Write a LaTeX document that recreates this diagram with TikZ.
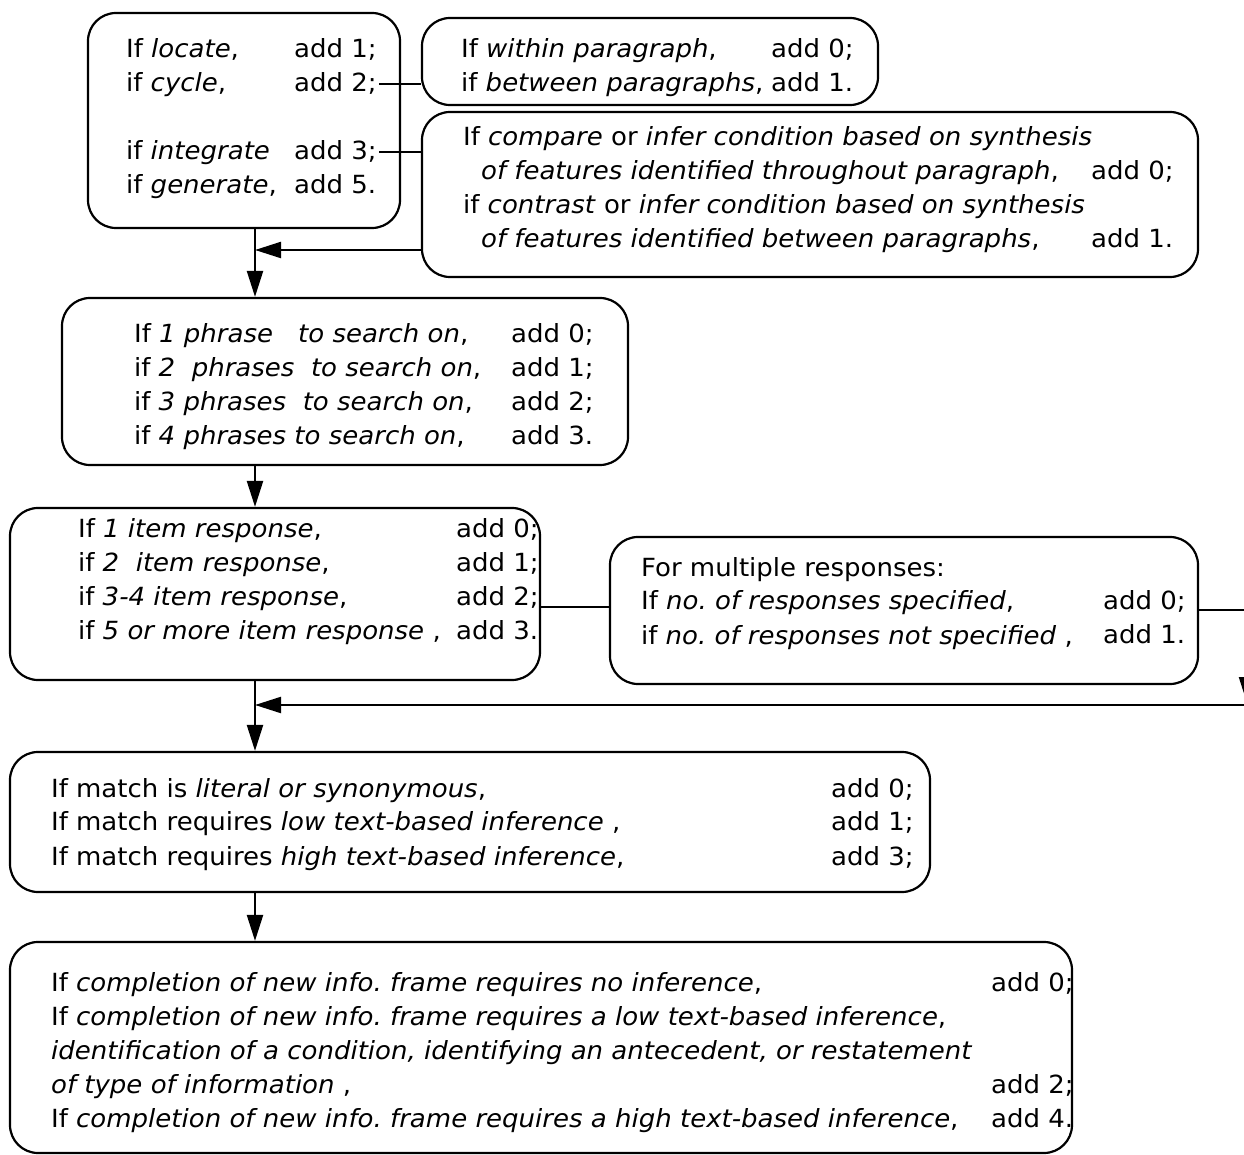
\documentclass[tikz,border=0pt]{standalone}
\usepackage{fontspec}
\setmainfont{DejaVu Sans}[FakeStretch=1.04]
\frenchspacing
\usetikzlibrary{arrows.meta}
\usetikzlibrary{fit}

\tikzset{
  box/.style={draw, rounded corners=14pt, inner sep=0pt},
  txt/.style={anchor=base west, inner sep=0pt, font=\fontsize{12.5}{17}\selectfont},
  arr/.style={-{Triangle[length=13pt, width=8pt]}},
}

\begin{document}
\begin{tikzpicture}[x=0.5pt, y=-0.5pt, line width=1.1pt]
    \path[use as bounding box, clip] (0,0) rectangle (1244,1155);

    % boxes
    \node[box, fit={(88,13) (400,228)}] (locbox) {};
    \node[box, fit={(422,18) (878,105)}] (parbox) {};
    \node[box, fit={(422,112) (1198,277)}] (synbox) {};
    \node[box, fit={(62,298) (628,465)}] (phrbox) {};
    \node[box, fit={(10,508) (540,680)}] (itembox) {};
    \node[box, fit={(610,537) (1198,684)}] (multbox) {};
    \node[box, fit={(10,752) (930,892)}] (matchbox) {};
    \node[box, fit={(10,942) (1072,1153)}] (framebox) {};

    % texts
    \node[txt] (loctxt) at (125,58) {\begin{tabular}[t]{@{}l@{}}
      If \emph{locate},\\ if \emph{cycle},\\ \\ if \emph{integrate}\\ if \emph{generate},\end{tabular}};
    \node[txt] (locadd) at (293,58) {\begin{tabular}[t]{@{}l@{}}
      add 1;\\ add 2;\\ \\ add 3;\\ add 5.\end{tabular}};

    \node[txt] (partxt) at (460,58) {\begin{tabular}[t]{@{}l@{}}
      If \emph{within paragraph},\\ if \emph{between paragraphs},\end{tabular}};
    \node[txt] (paradd) at (770,58) {\begin{tabular}[t]{@{}l@{}}
      add 0;\\ add 1.\end{tabular}};

    \node[txt] (syntxt) at (462,146) {\begin{tabular}[t]{@{}l@{}}
      If \emph{compare} or \emph{infer condition based on synthesis}\\
      \hspace{9pt}\emph{of features identified throughout paragraph},\\
      if \emph{contrast} or \emph{infer condition based on synthesis}\\
      \hspace{9pt}\emph{of features identified between paragraphs},\end{tabular}};
    \node[txt] (synadd) at (1090,146) {\begin{tabular}[t]{@{}l@{}}
      \\ add 0;\\ \\ add 1.\end{tabular}};

    \node[txt] (phrtxt) at (133,343) {\begin{tabular}[t]{@{}l@{}}
      If \emph{1 phrase\quad to search on},\\ if \emph{2 \ phrases \ to search on},\\
      if \emph{3 phrases \ to search on},\\ if \emph{4 phrases to search on},\end{tabular}};
    \node[txt] (phradd) at (510,343) {\begin{tabular}[t]{@{}l@{}}
      add 0;\\ add 1;\\ add 2;\\ add 3.\end{tabular}};

    \node[txt] (itemtxt) at (77,538) {\begin{tabular}[t]{@{}l@{}}
      If \emph{1 item response},\\ if \emph{2 \ item response},\\
      if \emph{3-4 item response},\\ if \emph{5 or more item response} ,\end{tabular}};
    \node[txt] (itemadd) at (455,538) {\begin{tabular}[t]{@{}l@{}}
      add 0;\\ add 1;\\ add 2;\\ add 3.\end{tabular}};

    \node[txt] (multtxt) at (640,576) {\begin{tabular}[t]{@{}l@{}}
      For multiple responses:\\ If \emph{no. of responses specified},\\
      if \emph{no. of responses not specified} ,\end{tabular}};
    \node[txt] (multadd) at (1102,576) {\begin{tabular}[t]{@{}l@{}}
      \\ add 0;\\ add 1.\end{tabular}};

    \node[txt] (matchtxt) at (50,797) {\begin{tabular}[t]{@{}l@{}}
      If match is \emph{literal or synonymous},\\
      If match requires \emph{low text-based inference} ,\\
      If match requires \emph{high text-based inference},\end{tabular}};
    \node[txt] (matchadd) at (830,797) {\begin{tabular}[t]{@{}l@{}}
      add 0;\\ add 1;\\ add 3;\end{tabular}};

    \node[txt] (frametxt) at (50,991) {\begin{tabular}[t]{@{}l@{}}
      If \emph{completion of new info. frame requires no inference},\\
      If \emph{completion of new info. frame requires a low text-based inference},\\
      \emph{identification of a condition, identifying an antecedent, or restatement}\\
      \emph{of type of information} ,\\
      If \emph{completion of new info. frame requires a high text-based inference},\end{tabular}};
    \node[txt] (frameadd) at (990,991) {\begin{tabular}[t]{@{}l@{}}
      add 0;\\ \\ \\ add 2;\\ add 4.\end{tabular}};

    % connectors
    \coordinate (cyc) at (379,84);
    \coordinate (intg) at (379,152);
    \coordinate (jn1) at (255,250);
    \coordinate (jn2) at (575,607);
    \coordinate (jn3) at (255,705);
    \coordinate (rt1) at (1247,610);
    \coordinate (rt2) at (1247,703);
    \coordinate (rt3) at (1262,705);

    \draw (cyc) -- (cyc -| parbox.west);
    \draw (intg) -- (intg -| synbox.west);
    \draw[arr] (synbox.west |- jn1) -- (jn1);
    \draw[arr] (jn1 |- locbox.south) -- (jn1 |- phrbox.north);
    \draw[arr] (jn1 |- phrbox.south) -- (jn1 |- itembox.north);
    \draw (jn2 -| itembox.east) -- (jn2 -| multbox.west);
    \draw[arr] (rt1 -| multbox.east) -- (rt1) -- (rt2);
    \draw[arr] (rt3) -- (jn3);
    \draw[arr] (jn1 |- itembox.south) -- (jn1 |- matchbox.north);
    \draw[arr] (jn1 |- matchbox.south) -- (jn1 |- framebox.north);
\end{tikzpicture}
\end{document}
